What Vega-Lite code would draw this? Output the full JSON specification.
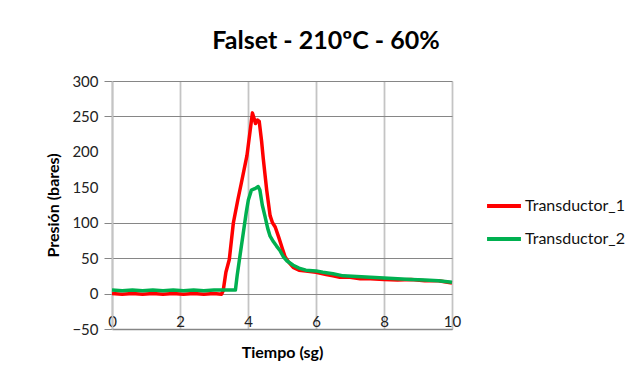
{
  "$schema": "https://vega.github.io/schema/vega-lite/v6.json",
  "width": 340,
  "height": 248,
  "autosize": {"type": "none"},
  "padding": {"left": 112, "top": 81, "right": 186, "bottom": 52},
  "background": "white",
  "title": {
    "text": "Falset - 210ºC - 60%",
    "font": "Lato",
    "fontSize": 25,
    "fontWeight": "bold",
    "color": "#000000",
    "anchor": "middle",
    "dx": 44,
    "offset": 20
  },
  "config": {
    "view": {"stroke": null},
    "font": "Lato"
  },
  "data": {
    "values": [
      {"t": 0, "p": 0, "s": "Transductor_1"},
      {"t": 0.3, "p": -1, "s": "Transductor_1"},
      {"t": 0.6, "p": 0, "s": "Transductor_1"},
      {"t": 0.9, "p": -1, "s": "Transductor_1"},
      {"t": 1.2, "p": 0, "s": "Transductor_1"},
      {"t": 1.5, "p": -1, "s": "Transductor_1"},
      {"t": 1.8, "p": 0, "s": "Transductor_1"},
      {"t": 2.1, "p": -1, "s": "Transductor_1"},
      {"t": 2.4, "p": 0, "s": "Transductor_1"},
      {"t": 2.7, "p": -1, "s": "Transductor_1"},
      {"t": 3.0, "p": 0, "s": "Transductor_1"},
      {"t": 3.22, "p": -1, "s": "Transductor_1"},
      {"t": 3.27, "p": 4, "s": "Transductor_1"},
      {"t": 3.35, "p": 30, "s": "Transductor_1"},
      {"t": 3.45, "p": 48, "s": "Transductor_1"},
      {"t": 3.57, "p": 100, "s": "Transductor_1"},
      {"t": 3.7, "p": 132, "s": "Transductor_1"},
      {"t": 3.8, "p": 155, "s": "Transductor_1"},
      {"t": 3.97, "p": 195, "s": "Transductor_1"},
      {"t": 4.05, "p": 225, "s": "Transductor_1"},
      {"t": 4.13, "p": 255, "s": "Transductor_1"},
      {"t": 4.18, "p": 247, "s": "Transductor_1"},
      {"t": 4.22, "p": 240, "s": "Transductor_1"},
      {"t": 4.28, "p": 245, "s": "Transductor_1"},
      {"t": 4.33, "p": 243, "s": "Transductor_1"},
      {"t": 4.4, "p": 215, "s": "Transductor_1"},
      {"t": 4.45, "p": 190, "s": "Transductor_1"},
      {"t": 4.55, "p": 146, "s": "Transductor_1"},
      {"t": 4.65, "p": 110, "s": "Transductor_1"},
      {"t": 4.72, "p": 100, "s": "Transductor_1"},
      {"t": 4.8, "p": 94, "s": "Transductor_1"},
      {"t": 4.9, "p": 80, "s": "Transductor_1"},
      {"t": 5.0, "p": 65, "s": "Transductor_1"},
      {"t": 5.09, "p": 52, "s": "Transductor_1"},
      {"t": 5.2, "p": 44, "s": "Transductor_1"},
      {"t": 5.33, "p": 37, "s": "Transductor_1"},
      {"t": 5.5, "p": 33, "s": "Transductor_1"},
      {"t": 5.7, "p": 32, "s": "Transductor_1"},
      {"t": 6.0, "p": 30, "s": "Transductor_1"},
      {"t": 6.3, "p": 27, "s": "Transductor_1"},
      {"t": 6.5, "p": 25, "s": "Transductor_1"},
      {"t": 6.7, "p": 23, "s": "Transductor_1"},
      {"t": 7.0, "p": 23, "s": "Transductor_1"},
      {"t": 7.3, "p": 21, "s": "Transductor_1"},
      {"t": 7.6, "p": 21, "s": "Transductor_1"},
      {"t": 8.0, "p": 20, "s": "Transductor_1"},
      {"t": 8.4, "p": 19, "s": "Transductor_1"},
      {"t": 8.8, "p": 20, "s": "Transductor_1"},
      {"t": 9.2, "p": 18, "s": "Transductor_1"},
      {"t": 9.6, "p": 18, "s": "Transductor_1"},
      {"t": 10, "p": 15, "s": "Transductor_1"},
      {"t": 0, "p": 5, "s": "Transductor_2"},
      {"t": 0.3, "p": 4, "s": "Transductor_2"},
      {"t": 0.6, "p": 5, "s": "Transductor_2"},
      {"t": 0.9, "p": 4, "s": "Transductor_2"},
      {"t": 1.2, "p": 5, "s": "Transductor_2"},
      {"t": 1.5, "p": 4, "s": "Transductor_2"},
      {"t": 1.8, "p": 5, "s": "Transductor_2"},
      {"t": 2.1, "p": 4, "s": "Transductor_2"},
      {"t": 2.4, "p": 5, "s": "Transductor_2"},
      {"t": 2.7, "p": 4, "s": "Transductor_2"},
      {"t": 3.0, "p": 5, "s": "Transductor_2"},
      {"t": 3.3, "p": 5, "s": "Transductor_2"},
      {"t": 3.63, "p": 5, "s": "Transductor_2"},
      {"t": 3.68, "p": 25, "s": "Transductor_2"},
      {"t": 3.76, "p": 52, "s": "Transductor_2"},
      {"t": 3.86, "p": 85, "s": "Transductor_2"},
      {"t": 3.95, "p": 115, "s": "Transductor_2"},
      {"t": 4.01, "p": 132, "s": "Transductor_2"},
      {"t": 4.1, "p": 146, "s": "Transductor_2"},
      {"t": 4.2, "p": 148, "s": "Transductor_2"},
      {"t": 4.3, "p": 151, "s": "Transductor_2"},
      {"t": 4.35, "p": 146, "s": "Transductor_2"},
      {"t": 4.42, "p": 125, "s": "Transductor_2"},
      {"t": 4.5, "p": 109, "s": "Transductor_2"},
      {"t": 4.58, "p": 92, "s": "Transductor_2"},
      {"t": 4.65, "p": 81, "s": "Transductor_2"},
      {"t": 4.75, "p": 73, "s": "Transductor_2"},
      {"t": 4.84, "p": 67, "s": "Transductor_2"},
      {"t": 4.95, "p": 60, "s": "Transductor_2"},
      {"t": 5.04, "p": 52, "s": "Transductor_2"},
      {"t": 5.15, "p": 46, "s": "Transductor_2"},
      {"t": 5.33, "p": 40, "s": "Transductor_2"},
      {"t": 5.5, "p": 36, "s": "Transductor_2"},
      {"t": 5.7, "p": 33, "s": "Transductor_2"},
      {"t": 6.0, "p": 32, "s": "Transductor_2"},
      {"t": 6.2, "p": 30, "s": "Transductor_2"},
      {"t": 6.5, "p": 28, "s": "Transductor_2"},
      {"t": 6.8, "p": 25, "s": "Transductor_2"},
      {"t": 7.2, "p": 24, "s": "Transductor_2"},
      {"t": 7.6, "p": 23, "s": "Transductor_2"},
      {"t": 8.0, "p": 22, "s": "Transductor_2"},
      {"t": 8.4, "p": 21, "s": "Transductor_2"},
      {"t": 8.8, "p": 20, "s": "Transductor_2"},
      {"t": 9.2, "p": 19, "s": "Transductor_2"},
      {"t": 9.6, "p": 18, "s": "Transductor_2"},
      {"t": 10, "p": 16, "s": "Transductor_2"}
    ]
  },
  "mark": {"type": "line", "strokeWidth": 3.5, "strokeJoin": "round"},
  "encoding": {
    "x": {
      "field": "t",
      "type": "quantitative",
      "scale": {"domain": [0, 10], "nice": false, "zero": false},
      "axis": {
        "values": [0, 2, 4, 6, 8, 10],
        "title": "Tiempo (sg)",
        "titleFont": "Lato",
        "titleFontSize": 16,
        "titleFontWeight": "bold",
        "titleColor": "#000000",
        "titleBaseline": "middle",
        "titleY": 23,
        "labelFont": "Lato",
        "labelFontSize": 15,
        "labelColor": "#222222",
        "labelBaseline": "alphabetic",
        "labelPadding": -3,
        "labelFlush": false,
        "ticks": false,
        "domainColor": "#868686",
        "domainWidth": 1.5,
        "grid": true,
        "gridColor": "#c4c4c4",
        "gridWidth": 1.8
      }
    },
    "y": {
      "field": "p",
      "type": "quantitative",
      "scale": {"domain": [-50, 300], "nice": false, "zero": false},
      "axis": {
        "values": [-50, 0, 50, 100, 150, 200, 250, 300],
        "title": "Presión (bares)",
        "titleFont": "Lato",
        "titleFontSize": 16,
        "titleFontWeight": "bold",
        "titleColor": "#000000",
        "titlePadding": 10,
        "labelFont": "Lato",
        "labelFontSize": 15,
        "labelColor": "#222222",
        "labelPadding": 6,
        "ticks": true,
        "tickSize": 8,
        "tickColor": "#868686",
        "tickOpacity": {"condition": {"test": "datum.value == 150 || datum.value == 200", "value": 0}, "value": 1},
        "domainColor": "#c4c4c4",
        "domainWidth": 1.8,
        "grid": true,
        "gridColor": "#868686",
        "gridWidth": 1.2,
        "gridOpacity": {"condition": {"test": "datum.value == 150 || datum.value == 200", "value": 0}, "value": 1}
      }
    },
    "color": {
      "field": "s",
      "type": "nominal",
      "scale": {"domain": ["Transductor_1", "Transductor_2"], "range": ["#FF0000", "#00B050"]},
      "legend": {
        "title": null,
        "orient": "none",
        "legendX": 373,
        "legendY": 106,
        "symbolType": "stroke",
        "symbolSize": 1150,
        "symbolStrokeWidth": 4,
        "labelFont": "Lato",
        "labelFontSize": 16,
        "labelColor": "#111111",
        "labelOffset": 2,
        "rowPadding": 6
      }
    }
  }
}
